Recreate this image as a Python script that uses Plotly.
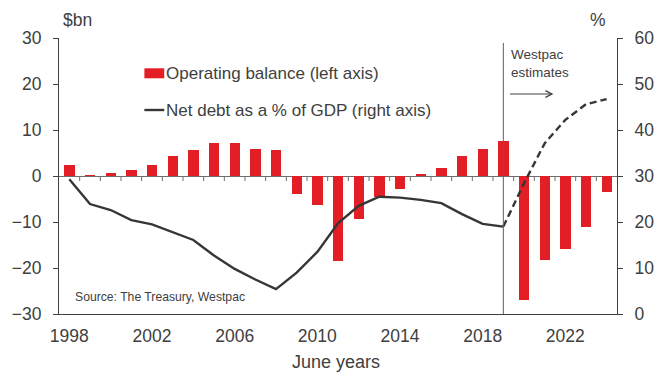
import plotly.graph_objects as go

years = list(range(1998, 2025))
operating_balance = [2.3, 0.2, 0.6, 1.4, 2.5, 4.4, 5.6, 7.1, 7.1, 5.8, 5.6,
                     -3.9, -6.4, -18.5, -9.3, -4.5, -2.8, 0.4, 1.7, 4.3, 5.9, 7.7,
                     -26.9, -18.3, -15.8, -11.1, -3.5]
net_debt_pct_gdp = [29.3, 23.9, 22.6, 20.4, 19.5, 17.8, 16.1, 12.7, 9.8, 7.5, 5.4,
                    9.0, 13.5, 19.7, 23.5, 25.5, 25.3, 24.8, 24.1, 21.7, 19.6, 19.0,
                    28.4, 37.1, 42.2, 45.6, 46.7]
estimate_start = 2019
xtick_years = [1998, 2002, 2006, 2010, 2014, 2018, 2022]
left_ticks = [-30, -20, -10, 0, 10, 20, 30]
right_ticks = [0, 10, 20, 30, 40, 50, 60]

RED = "#E31E24"
LINE = "#363636"
TXT = "#404040"
AX = "#404040"
ZERO = "#6e6e6e"
FONT = "Liberation Sans, Arial, sans-serif"

i_split = years.index(estimate_start)
hist_x, hist_y = years[:i_split + 1], net_debt_pct_gdp[:i_split + 1]
fc_x, fc_y = years[i_split:], net_debt_pct_gdp[i_split:]

xr = [years[0] - 0.5, years[-1] + 0.5]
yr = [-30, 30]
boundaries = [y + 0.5 for y in years[:-1]]

PLOT_H = 374 - 38 - 60
tick_units = 5 * (yr[1] - yr[0]) / PLOT_H

# category tick marks hanging below the zero line
tick_x, tick_y = [], []
for b in boundaries:
    tick_x += [b, b, None]
    tick_y += [0, -tick_units, None]

fig = go.Figure()
fig.add_trace(go.Scatter(x=tick_x, y=tick_y, mode="lines", line=dict(color=ZERO, width=1),
                         showlegend=False, hoverinfo="skip"))
fig.add_trace(go.Bar(x=years, y=operating_balance, width=0.5,
                     marker=dict(color=RED, line=dict(width=0)),
                     showlegend=False, name="Operating balance (left axis)"))
fig.add_trace(go.Scatter(x=hist_x, y=hist_y, mode="lines",
                         line=dict(color=LINE, width=2.4),
                         yaxis="y2", showlegend=False,
                         name="Net debt as a % of GDP (right axis)"))
fig.add_trace(go.Scatter(x=fc_x, y=fc_y, mode="lines",
                         line=dict(color=LINE, width=2.4, dash="7px,4px"),
                         yaxis="y2", showlegend=False))

fig.update_layout(
    width=668, height=374,
    margin=dict(l=55, r=51, t=38, b=60),
    paper_bgcolor="white", plot_bgcolor="white",
    font=dict(family=FONT, color=TXT, size=17),
    bargap=0,
    xaxis=dict(range=xr, tickvals=xtick_years, ticks="", showline=True,
               linecolor=AX, linewidth=1, showgrid=False, zeroline=False,
               tickfont=dict(size=17.5, color=TXT), ticklabelstandoff=6),
    yaxis=dict(range=yr, tickvals=left_ticks, ticks="outside", ticklen=5,
               tickcolor=AX, showline=True, linecolor=AX, linewidth=1,
               showgrid=False, zeroline=True, zerolinecolor=ZERO, zerolinewidth=1,
               tickfont=dict(size=17.5, color=TXT), ticklabelstandoff=8),
    yaxis2=dict(range=[0, 60], tickvals=right_ticks, overlaying="y", side="right",
                anchor="x", ticks="outside", ticklen=5, tickcolor=AX, showline=True,
                linecolor=AX, linewidth=1, showgrid=False, zeroline=False,
                tickfont=dict(size=17.5, color=TXT), ticklabelstandoff=8),
)

# vertical divider at start of estimates
fig.add_shape(type="line", xref="x", yref="paper", x0=estimate_start, x1=estimate_start,
              y0=0, y1=0.982, line=dict(color="#606060", width=1))

def px(xp):
    return (xp - 55) / 562.0

def py(yp):
    return (314 - yp) / 276.0

# manual legend
fig.add_shape(type="rect", xref="paper", yref="paper", x0=px(141), x1=px(161),
              y0=py(78.3), y1=py(68.3), fillcolor=RED, line=dict(width=0))
fig.add_shape(type="line", xref="paper", yref="paper", x0=px(141), x1=px(161),
              y0=py(110), y1=py(110), line=dict(color=LINE, width=2.4))
fig.add_annotation(xref="paper", yref="paper", x=px(161), y=py(73), xanchor="left",
                   yanchor="middle", showarrow=False, text="Operating balance (left axis)",
                   font=dict(size=17, color=TXT))
fig.add_annotation(xref="paper", yref="paper", x=px(161), y=py(110), xanchor="left",
                   yanchor="middle", showarrow=False,
                   text="Net debt as a % of GDP (right axis)",
                   font=dict(size=17, color=TXT))

# axis unit labels
fig.add_annotation(xref="paper", yref="paper", x=px(57), y=py(20), xanchor="left",
                   yanchor="middle", showarrow=False, text="$bn",
                   font=dict(size=17.5, color=TXT))
fig.add_annotation(xref="paper", yref="paper", x=px(608), y=py(20), xanchor="right",
                   yanchor="middle", showarrow=False, text="%",
                   font=dict(size=17.5, color=TXT))

# x axis title
fig.add_annotation(xref="paper", yref="paper", x=px(334), y=py(361.5), xanchor="center",
                   yanchor="middle", showarrow=False, text="June years",
                   font=dict(size=18, color=TXT))

# source
fig.add_annotation(xref="paper", yref="paper", x=px(69), y=py(297), xanchor="left",
                   yanchor="middle", showarrow=False, text="Source: The Treasury, Westpac",
                   font=dict(size=12.2, color=TXT))

# Westpac estimates
fig.add_annotation(xref="paper", yref="paper", x=px(508), y=py(45), xanchor="left",
                   yanchor="top", align="left", showarrow=False,
                   text="Westpac<br>estimates", font=dict(size=13.5, color=TXT))
fig.add_annotation(xref="paper", yref="paper", x=px(553), y=py(94), ax=-45, ay=0,
                   axref="pixel", ayref="pixel", text="", showarrow=True,
                   arrowhead=5, arrowsize=1.3, arrowwidth=1, arrowcolor=TXT)

fig.write_html("out.html")
